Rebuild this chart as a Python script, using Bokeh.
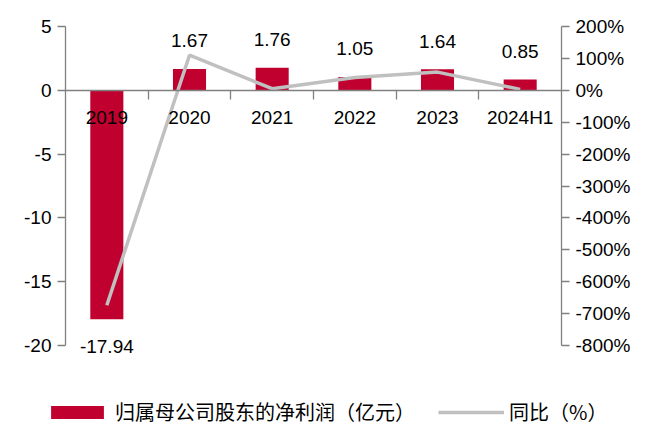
from bokeh.plotting import figure
from bokeh.models import (ColumnDataSource, Range1d, LinearAxis, FixedTicker,
                          PrintfTickFormatter, Legend, LegendItem)
from bokeh.core.properties import value
from bokeh.embed import file_html
from bokeh.resources import INLINE

categories = ["2019", "2020", "2021", "2022", "2023", "2024H1"]
net_profit = [-17.94, 1.67, 1.76, 1.05, 1.64, 0.85]          # 亿元
yoy_pct = [-674, 110, 5, 40, 57, 3]                           # %
left_ticks = [-20, -15, -10, -5, 0, 5]
right_ticks = [-800, -700, -600, -500, -400, -300, -200, -100, 0, 100, 200]

BAR = "#C0002F"
LINE = "#C0C0C0"
AXIS = "#808080"
FONT = "Liberation Sans"
CJK = "Noto Sans CJK SC"
FS = "19px"

# layout (pixels): axes box between x=65 and x=561, y=26 (value 5) and y=345 (value -20)
W, H = 648, 426
AX_L, AX_R, AX_T, AX_B = 65, 561, 26, 345
N = len(categories)
BAND = (AX_R - AX_L) / N

L_MIN, L_MAX = -20, 5
R_MIN, R_MAX = -800, 200
ratio = (R_MAX - R_MIN) / (L_MAX - L_MIN)
PX_PER_UNIT = (AX_B - AX_T) / (L_MAX - L_MIN)
L_HI = L_MAX + AX_T / PX_PER_UNIT
L_LO = L_MAX - (H - AX_T) / PX_PER_UNIT
R_HI = R_MAX + (L_HI - L_MAX) * ratio
R_LO = R_MAX - (L_MAX - L_LO) * ratio
X_LO = -AX_L / BAND
X_HI = N + (W - AX_R) / BAND

pos = [i + 0.5 for i in range(N)]          # category centres on the x scale
labels = ["%.2f" % v for v in net_profit]
offsets = [-28 if v >= 0 else 27 for v in net_profit]
src = ColumnDataSource(dict(x=pos, cat=categories, val=net_profit, yoy=yoy_pct, lab=labels, off=offsets))

p = figure(width=W, height=H, x_range=Range1d(X_LO, X_HI), y_range=Range1d(L_LO, L_HI),
           output_backend="svg", toolbar_location=None,
           min_border_left=0, min_border_right=0, min_border_top=0, min_border_bottom=0,
           x_axis_location=None, y_axis_location=None)
p.outline_line_color = None
p.xgrid.visible = False
p.ygrid.visible = False
p.background_fill_color = "white"
p.border_fill_color = "white"

p.extra_y_ranges = {"pct": Range1d(R_LO, R_HI)}


def style_axis(ax):
    ax.axis_line_color = AXIS
    ax.axis_line_width = 1.3
    ax.major_tick_line_color = AXIS
    ax.major_tick_line_width = 1.3
    ax.major_tick_in = 0
    ax.minor_tick_line_color = None
    ax.major_label_text_font = FONT
    ax.major_label_text_font_size = FS
    ax.major_label_text_color = "black"


# left axis at the left edge of the first category
ya = LinearAxis(ticker=FixedTicker(ticks=left_ticks), formatter=PrintfTickFormatter(format="%d"),
                bounds=(L_MIN, L_MAX), fixed_location=0)
style_axis(ya)
ya.major_tick_out = 8
ya.major_label_standoff = 6
p.add_layout(ya, "left")

# right axis at the right edge of the last category
ra = LinearAxis(y_range_name="pct", ticker=FixedTicker(ticks=right_ticks),
                formatter=PrintfTickFormatter(format="%d%%"), bounds=(R_MIN, R_MAX), fixed_location=N)
style_axis(ra)
ra.major_tick_out = 8
ra.major_label_standoff = 6
p.add_layout(ra, "right")

# category axis at y = 0 (labels at category centres)
xa = LinearAxis(fixed_location=0, bounds=(0, N), ticker=FixedTicker(ticks=pos),
                major_label_overrides={x: c for x, c in zip(pos, categories)})
style_axis(xa)
xa.major_tick_line_color = None
xa.major_tick_out = 0
xa.major_label_standoff = 17
p.add_layout(xa, "below")

# boundary tick marks between categories at y = 0
ea = LinearAxis(fixed_location=0, ticker=FixedTicker(ticks=list(range(1, N))))
style_axis(ea)
ea.axis_line_color = None
ea.major_tick_out = 9
ea.major_label_text_alpha = 0
ea.major_label_text_font_size = "1px"
p.add_layout(ea, "below")

bars = p.vbar(x="x", top="val", bottom=0, width=0.4, source=src, fill_color=BAR, line_color=None)
line = p.line(x="x", y="yoy", source=src, y_range_name="pct", line_color=LINE, line_width=3.5)

p.text(x="x", y="val", text="lab", source=src, y_offset="off", text_align="center",
       text_baseline="alphabetic", text_font=value(FONT), text_font_size=FS, text_color="black")

legend = Legend(items=[LegendItem(label="归属母公司股东的净利润（亿元）", renderers=[bars]),
                       LegendItem(label="同比（%）", renderers=[line])],
                location=(44, 0), orientation="horizontal")
legend.glyph_width = 66
legend.glyph_height = 16
legend.label_height = 16
legend.label_standoff = 5
legend.spacing = 23
legend.padding = 0
legend.margin = 0
legend.border_line_color = None
legend.background_fill_alpha = 0
legend.label_text_font = CJK
legend.label_text_font_size = "20px"
legend.label_text_color = "black"
p.add_layout(legend, "center")

open("out.html", "w").write(file_html(p, INLINE))
